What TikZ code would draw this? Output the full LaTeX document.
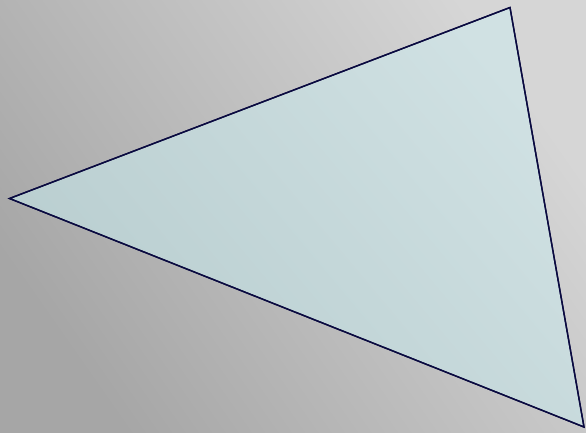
\documentclass[tikz,border=0pt]{standalone}
\definecolor{bgdark}{HTML}{A6A6A6}
\definecolor{bglight}{HTML}{D6D6D6}
\definecolor{tridark}{HTML}{B8CDCF}
\definecolor{trilight}{HTML}{D0E1E3}
\definecolor{edge}{HTML}{0A0A40}
\tikzset{tri/.style={draw=edge, line width=1.4pt, line join=miter, top color=trilight, bottom color=tridark, shading angle=-50}}
\begin{document}
\begin{tikzpicture}[x=1pt,y=1pt]
\useasboundingbox (0,0) rectangle (586,432);
\shade[top color=bglight, bottom color=bgdark, shading angle=-55] (0,0) rectangle (586,432);
\coordinate (A) at (9.5,233.5);
\coordinate (B) at (510,424.5);
\coordinate (C) at (584,5);
\shade[tri] (A) -- (B) -- (C) -- cycle;
\draw[draw=edge, line width=1.4pt, line join=miter] (A) -- (B) -- (C) -- cycle;
\end{tikzpicture}
\end{document}
